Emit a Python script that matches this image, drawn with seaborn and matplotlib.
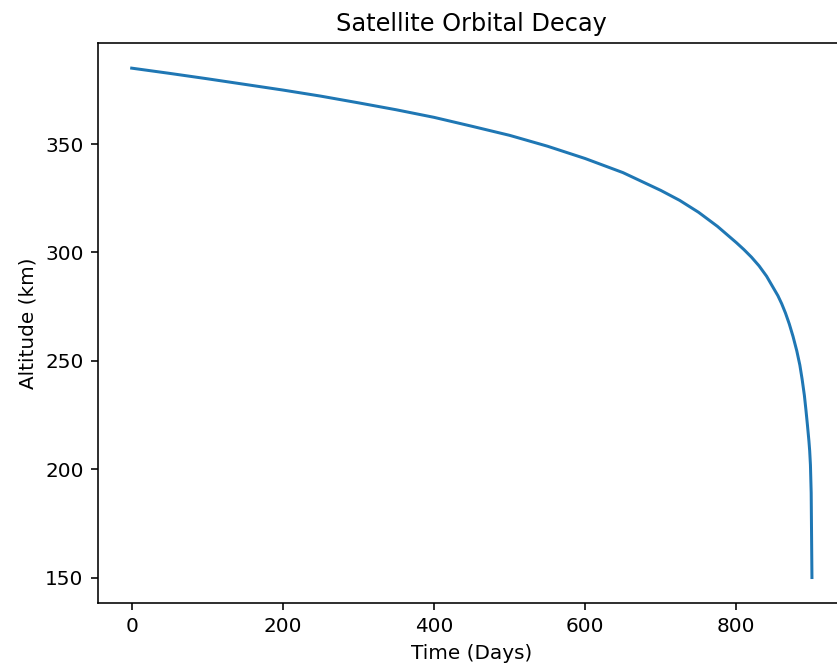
#!/usr/bin/env python
# -*- coding: utf-8 -*-
"""
Satellite orbital decay - altitude vs time
"""

import matplotlib
matplotlib.use("Agg")
import matplotlib.pyplot as plt
import seaborn as sns
import pandas as pd

# values
days = [0, 50, 100, 150, 200, 250, 300, 350, 400, 450, 500, 550, 600, 650,
        700, 725, 750, 775, 800, 810, 820, 830, 840, 850, 855, 860, 865, 870,
        875, 880, 884, 887, 890, 892, 894, 896, 897, 898, 899, 900]
altitude_km = [385.0, 382.6, 380.1, 377.5, 374.9, 372.1, 369.0, 365.8, 362.3,
               358.2, 354.0, 349.0, 343.3, 336.8, 328.6, 324.0, 318.5, 312.0,
               304.5, 301.3, 297.8, 293.8, 289.0, 283.0, 280.0, 276.3, 272.0,
               267.0, 261.2, 254.5, 248.0, 241.5, 234.0, 227.5, 220.5, 213.0,
               208.5, 202.0, 189.0, 150.0]

title = "Satellite Orbital Decay"
x_label = "Time (Days)"
y_label = "Altitude (km)"


def main():
    df = pd.DataFrame({"Days": days, "Altitude": altitude_km})

    dpi = 144
    fig = plt.figure(figsize=(837 / dpi, 670 / dpi), dpi=dpi)
    # reference is cropped on the right, so the axes run past the edge
    ax = fig.add_axes([0.1167, 0.100, 0.894, 0.8363])

    sns.lineplot(data=df, x="Days", y="Altitude", ax=ax, color="#1f77b4")

    ax.set_title(title)
    ax.set_xlabel(x_label)
    ax.set_ylabel(y_label)
    ax.set_yticks([150, 200, 250, 300, 350])
    # right spine falls outside the crop in the reference
    ax.spines['right'].set_visible(False)

    fig.savefig("out.png", dpi=dpi)
    plt.close(fig)


if __name__ == '__main__':
    main()
